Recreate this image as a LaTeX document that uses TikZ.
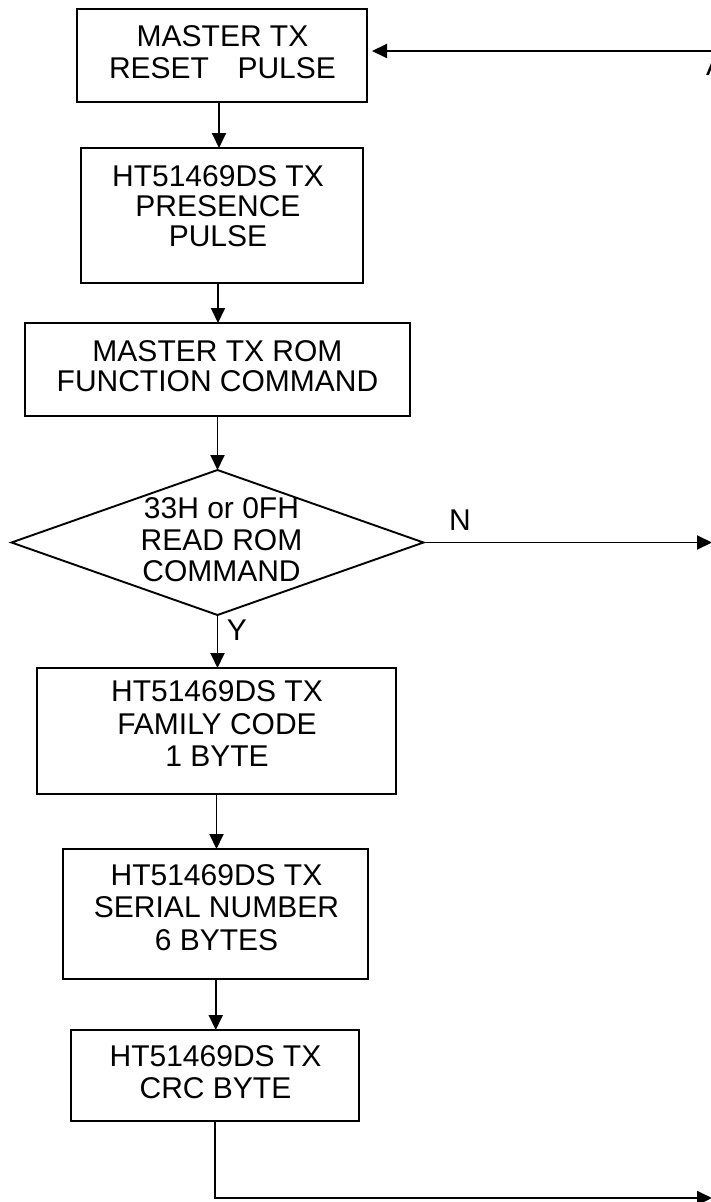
\documentclass[tikz,border=0pt]{standalone}
\usepackage{fontspec}
\setmainfont{Liberation Sans}
\usetikzlibrary{shapes.geometric,arrows.meta}
\newcommand{\mlines}[2]{\fontsize{30}{#1}\selectfont\begin{tabular}[t]{@{}c@{}}#2\end{tabular}}
\begin{document}
\begin{tikzpicture}[x=1pt,y=-1pt,
  box/.style={draw, line width=1.9pt, inner sep=0pt, outer sep=0pt, rectangle},
  dbox/.style={draw, line width=1.9pt, inner sep=0pt, outer sep=0pt, diamond},
  txt/.style={inner sep=0pt, outer sep=0pt, anchor=base},
  lbl/.style={inner sep=0pt, outer sep=0pt, anchor=base, font=\fontsize{30}{31}\selectfont},
  arr/.style={line width=1.9pt, -{Triangle[length=15pt,width=14pt]}},
  conn/.style={line width=1.9pt}]
\useasboundingbox (0,0) rectangle (710,1202);

% boxes
\node[box, minimum width=290pt, minimum height=93pt]  (b1) at (222,55.5) {};
\node[box, minimum width=282pt, minimum height=135pt] (b2) at (222,215.5) {};
\node[box, minimum width=385pt, minimum height=93pt]  (b3) at (217.5,369.5) {};
\node[dbox, minimum width=412pt, minimum height=145pt] (d) at (217.5,542.5) {};
\node[box, minimum width=359pt, minimum height=126pt] (b4) at (216.5,731) {};
\node[box, minimum width=305pt, minimum height=130pt] (b5) at (215.75,914) {};
\node[box, minimum width=288pt, minimum height=91pt]  (b6) at (215,1075.5) {};

% texts
\node[txt] (t1) at (222.5,46.7) {\mlines{31.6}{MASTER TX\\RESET\hspace{0.95em}PULSE}};
\node[txt] (t2) at (218,186.7) {\mlines{30}{HT51469DS TX\\PRESENCE\\PULSE}};
\node[txt] (t3) at (217.5,361.7) {\mlines{30}{MASTER TX ROM\\FUNCTION COMMAND}};
\node[txt] (td) at (221.5,518.3) {\mlines{31.7}{33H or 0FH\\READ ROM\\COMMAND}};
\node[txt] (t4) at (217,701.7) {\mlines{32.5}{HT51469DS TX\\FAMILY CODE\\1 BYTE}};
\node[txt] (t5) at (216.5,885) {\mlines{32.5}{HT51469DS TX\\SERIAL NUMBER\\6 BYTES}};
\node[txt] (t6) at (215.5,1066.7) {\mlines{31.6}{HT51469DS TX\\CRC BYTE}};

% labels
\node[lbl] (nl) at (460,530) {N};
\node[lbl] (yl) at (237,640) {Y};
\node[lbl, anchor=base west] (al) at (706,75) {A};

% free ends at the right edge
\coordinate (rtop) at (712,51);
\coordinate (rmid) at (712,542.5);
\coordinate (rbot) at (712,1198);

% connectors
\draw[arr, shorten >=5pt] (rtop) -- (b1.east |- rtop);
\draw[arr] ([xshift=-3pt]b1.south) -- ([xshift=-3pt]b1.south |- b2.north);
\draw[arr] ([xshift=-4pt]b2.south) -- ([xshift=-4pt]b2.south |- b3.north);
\draw[arr] (b3.south) -- (d.north);
\draw[arr] (d.south) -- (d.south |- b4.north);
\draw[arr] (b4.south) -- (b4.south |- b5.north);
\draw[arr] (b5.south) -- (b5.south |- b6.north);
\draw[arr] (d.east) -- (rmid);
\draw[arr] (b6.south) |- (rbot);
\end{tikzpicture}
\end{document}
